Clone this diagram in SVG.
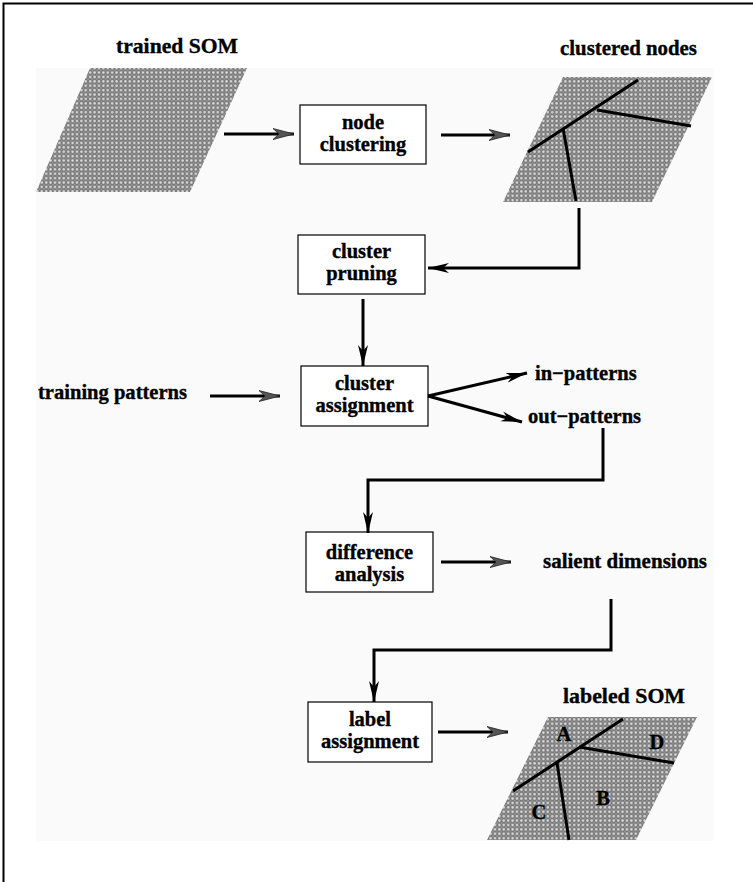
<svg xmlns="http://www.w3.org/2000/svg" width="753" height="882" viewBox="0 0 753 882">
  <defs>
    <!-- dotted lattice used to fill the SOM grids -->
    <pattern id="somGrid" width="4.4" height="4.4" patternUnits="userSpaceOnUse">
      <rect width="4.4" height="4.4" fill="#7a7a7a"/>
      <circle cx="2.2" cy="2.2" r="1.25" fill="#dcdcdc"/>
      <circle cx="0" cy="0" r="0.7" fill="#b0b0b0"/>
      <circle cx="4.4" cy="0" r="0.7" fill="#b0b0b0"/>
      <circle cx="0" cy="4.4" r="0.7" fill="#b0b0b0"/>
      <circle cx="4.4" cy="4.4" r="0.7" fill="#b0b0b0"/>
    </pattern>
    <marker id="headGrey" markerWidth="22" markerHeight="14" refX="21" refY="7" orient="auto" markerUnits="userSpaceOnUse">
      <path d="M21,7 L0,1.5 L6,7 L0,12.5 Z" fill="#555" stroke="#222" stroke-width="0.8"/>
    </marker>
    <marker id="headBlack" markerWidth="22" markerHeight="14" refX="21" refY="7" orient="auto" markerUnits="userSpaceOnUse">
      <path d="M21,7 L0,2 L6,7 L0,12 Z" fill="#000"/>
    </marker>
  </defs>
  <style>
    .lbl { font-family: "Liberation Serif", "Times New Roman", serif; font-weight: bold; font-size: 20.5px; fill: #000; stroke: #000; stroke-width: 0.35px; }
    .ttl { font-size: 22px; }
    .let { font-size: 20.5px; }
    .mid { text-anchor: middle; }
    .box { fill: #fff; stroke: #000; stroke-width: 1.2; }
    .grid { fill: url(#somGrid); }
    .cut { stroke: #000; stroke-width: 3; fill: none; stroke-linecap: butt; }
    .wire { stroke: #000; stroke-width: 3; fill: none; }
  </style>

  <!-- page and frame -->
  <rect width="753" height="882" fill="#fff"/>
  <rect x="36" y="68" width="678" height="773" fill="#fafafa"/>
  <path d="M3.5,882 L3.5,3.5 L753,3.5" fill="none" stroke="#000" stroke-width="2"/>

  <g id="trained-som">
    <text class="lbl ttl mid" x="177" y="53" textLength="122" lengthAdjust="spacingAndGlyphs">trained SOM</text>
    <polygon class="grid" points="90,68 247,68 190,192 36,192"/>
  </g>

  <g id="node-clustering">
    <rect class="box" x="300" y="105" width="126" height="59"/>
    <text class="lbl mid" x="363" y="129">node</text>
    <text class="lbl mid" x="363" y="151">clustering</text>
  </g>

  <g id="clustered-nodes">
    <text class="lbl ttl mid" x="628.5" y="55" textLength="137" lengthAdjust="spacingAndGlyphs">clustered nodes</text>
    <polygon class="grid" points="563,77 712,77 652,202 503,202"/>
    <line class="cut" x1="528" y1="152" x2="638" y2="80"/>
    <line class="cut" x1="597" y1="110" x2="691" y2="126"/>
    <line class="cut" x1="563" y1="128" x2="576" y2="201"/>
  </g>

  <g id="cluster-pruning">
    <rect class="box" x="298" y="235" width="127" height="59"/>
    <text class="lbl mid" x="361.5" y="258">cluster</text>
    <text class="lbl mid" x="361.5" y="280">pruning</text>
  </g>

  <g id="training-patterns">
    <text class="lbl" x="38" y="399" textLength="149" lengthAdjust="spacingAndGlyphs">training patterns</text>
  </g>

  <g id="cluster-assignment">
    <rect class="box" x="301" y="366" width="127" height="60"/>
    <text class="lbl mid" x="364.5" y="390">cluster</text>
    <text class="lbl mid" x="364.5" y="412">assignment</text>
  </g>

  <g id="in-patterns">
    <text class="lbl" x="535" y="380">in−patterns</text>
  </g>

  <g id="out-patterns">
    <text class="lbl" x="528" y="423">out−patterns</text>
  </g>

  <g id="difference-analysis">
    <rect class="box" x="306" y="532" width="127" height="60"/>
    <text class="lbl mid" x="369.5" y="559">difference</text>
    <text class="lbl mid" x="369.5" y="581">analysis</text>
  </g>

  <g id="salient-dimensions">
    <text class="lbl" x="543" y="568" textLength="164" lengthAdjust="spacingAndGlyphs">salient dimensions</text>
  </g>

  <g id="label-assignment">
    <rect class="box" x="308" y="702" width="124" height="60"/>
    <text class="lbl mid" x="370" y="726">label</text>
    <text class="lbl mid" x="370" y="748">assignment</text>
  </g>

  <g id="labeled-som">
    <text class="lbl ttl mid" x="624" y="703" textLength="122" lengthAdjust="spacingAndGlyphs">labeled SOM</text>
    <polygon class="grid" points="548,717 697,717 636,840 487,840"/>
    <line class="cut" x1="513" y1="791" x2="623" y2="719"/>
    <line class="cut" x1="579" y1="747" x2="674" y2="763"/>
    <line class="cut" x1="557" y1="763" x2="569" y2="840"/>
    <text class="lbl let mid" x="564" y="741">A</text>
    <text class="lbl let mid" x="657" y="749">D</text>
    <text class="lbl let mid" x="603" y="805">B</text>
    <text class="lbl let mid" x="539" y="819">C</text>
  </g>

  <g id="connectors">
    <line class="wire" x1="224" y1="134" x2="294" y2="134" marker-end="url(#headGrey)"/>
    <line class="wire" x1="441" y1="135" x2="510" y2="135" marker-end="url(#headGrey)"/>
    <polyline class="wire" points="579,208 579,268 428,268" marker-end="url(#headBlack)"/>
    <line class="wire" x1="363" y1="299" x2="363" y2="366" marker-end="url(#headBlack)"/>
    <line class="wire" x1="210" y1="396" x2="280" y2="396" marker-end="url(#headGrey)"/>
    <line class="wire" x1="428" y1="396" x2="527" y2="373" marker-end="url(#headBlack)"/>
    <line class="wire" x1="428" y1="396" x2="522" y2="422" marker-end="url(#headBlack)"/>
    <polyline class="wire" points="603,428 603,480 368,480 368,533" marker-end="url(#headBlack)"/>
    <line class="wire" x1="441" y1="562" x2="511" y2="562" marker-end="url(#headGrey)"/>
    <polyline class="wire" points="611,599 611,650 374,650 374,702" marker-end="url(#headBlack)"/>
    <line class="wire" x1="438" y1="732" x2="508" y2="732" marker-end="url(#headGrey)"/>
  </g>
</svg>
